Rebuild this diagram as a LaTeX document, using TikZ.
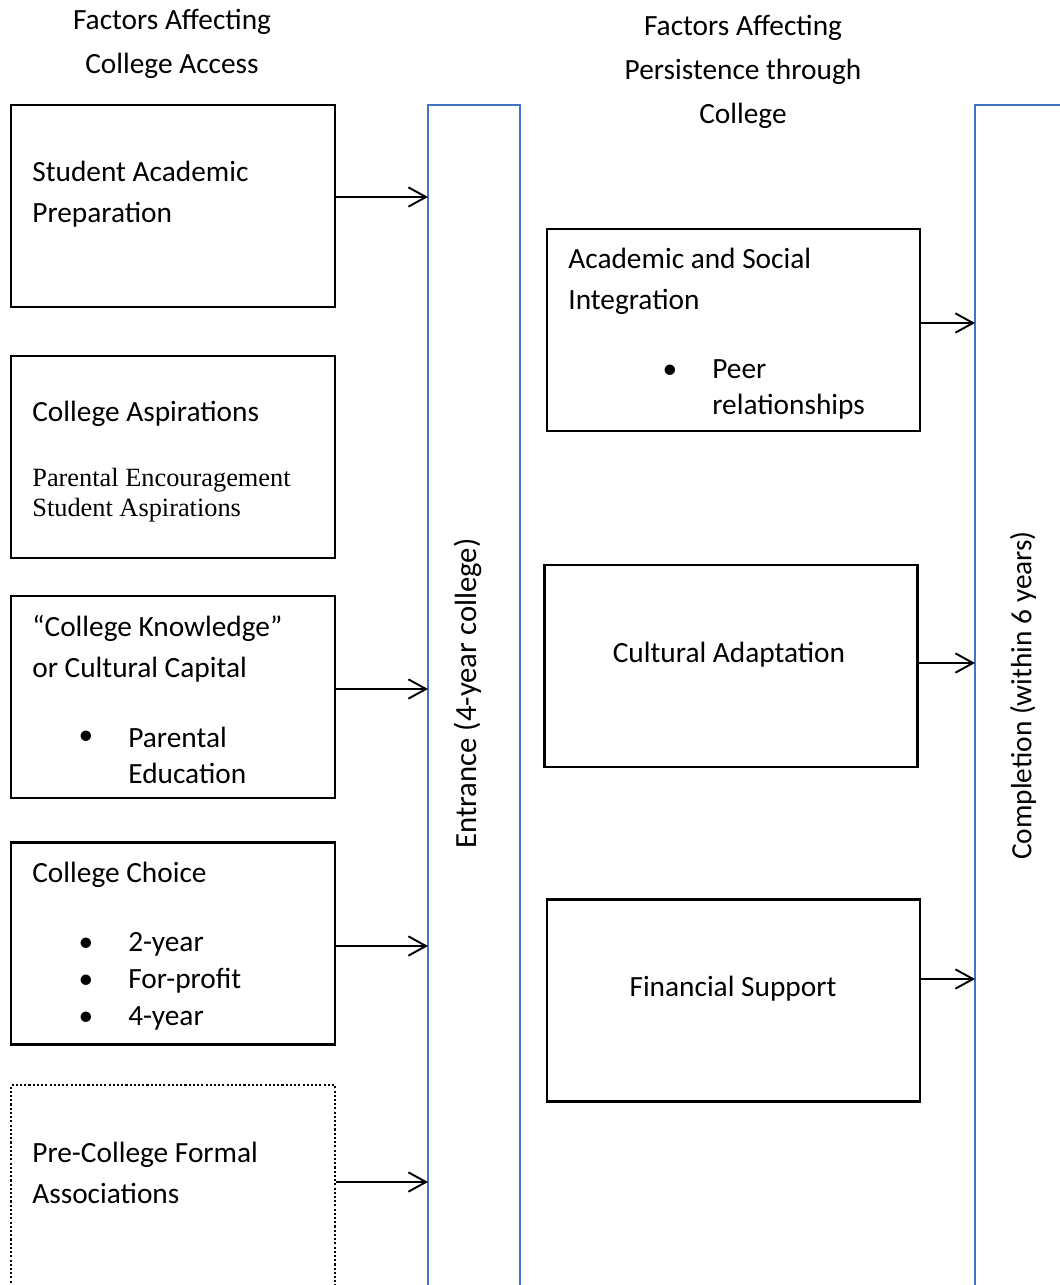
\documentclass[tikz,border=0pt]{standalone}
\usepackage{fontspec}
\setmainfont{Carlito}
\newfontfamily\timesfont{Liberation Serif}
\usetikzlibrary{arrows.meta}
\definecolor{barblue}{RGB}{68,114,196}

\begin{document}
\begin{tikzpicture}[x=0.02cm,y=-0.02cm,>={Straight Barb[length=10pt,width=11pt]},
  factor/.style={draw,line width=1.6pt,minimum width=6.48cm,minimum height=4.04cm,inner sep=0pt},
  persist/.style={draw,line width=1.6pt,minimum width=7.46cm,minimum height=4.04cm,inner sep=0pt},
  txt/.style={align=left,inner sep=0pt,yshift=-1.4pt,font=\fontsize{16.7}{23.3}\selectfont},
  head/.style={align=center,inner sep=0pt,yshift=-1.6pt,font=\fontsize{16.7}{25}\selectfont},
  bar/.style={draw=barblue,line width=1.6pt}]
  \clip (0,0) rectangle (1060,1285);

  % headings
  \node[head] (accesshead) at (172,41.5) {Factors Affecting\\College Access};
  \node[head] (persisthead) at (743,69) {Factors Affecting\\Persistence through\\College};

  % college access
  \node[factor] (prep) at (173,206) {};
  \node[factor] (aspire) at (173,457) {};
  \node[factor] (know) at (173,697) {};
  \node[factor] (choice) at (173,943.5) {};
  \node[factor,line width=1.4pt,dash pattern=on 1.2pt off 1.2pt,minimum height=4.3cm] (assoc) at (173,1192.5) {};

  \node[txt,anchor=west] (preptxt) at (32,191.5) {Student Academic\\Preparation};
  \node[txt,anchor=west] (aspiretxt) at (32,411) {College Aspirations};
  \node[txt,anchor=west,font=\timesfont\fontsize{15}{17}\selectfont] (aspirelist) at (32,493) {Parental Encouragement\\Student Aspirations};
  \node[txt,anchor=west] (knowtxt) at (32,646) {“College Knowledge”\\or Cultural Capital};
  \node[txt] (knowdot) at (86,735) {•};
  \node[txt,anchor=west,font=\fontsize{16.7}{20.5}\selectfont] (knowlist) at (128,753) {Parental\\Education};
  \node[txt,anchor=west] (choicetxt) at (32,872) {College Choice};
  \node[txt] (choicedot1) at (86,942) {•};
  \node[txt] (choicedot2) at (86,979) {•};
  \node[txt] (choicedot3) at (86,1016) {•};
  \node[txt,anchor=west,font=\fontsize{16.7}{21}\selectfont] (choicelist) at (128,979) {2-year\\For-profit\\4-year};
  \node[txt,anchor=west] (assoctxt) at (32,1170.5) {Pre-College Formal\\Associations};

  % persistence
  \node[persist] (integ) at (733.5,330) {};
  \node[persist] (adapt) at (731,666) {};
  \node[persist] (finance) at (733.5,1000.5) {};

  \node[txt,anchor=west] (integtxt) at (568,279) {Academic and Social\\Integration};
  \node[txt] (integdot) at (670,369) {•};
  \node[txt,anchor=west,font=\fontsize{16.7}{20.5}\selectfont] (integlist) at (712,387) {Peer\\relationships};
  \node[txt] (adapttxt) at (729,652) {Cultural Adaptation};
  \node[txt] (financetxt) at (733,986) {Financial Support};

  % entrance and completion
  \draw[bar] (428,1300) -- (428,105) -- (520,105) -- (520,1300);
  \draw[bar] (975,1300) -- (975,105) -- (1070,105);
  \node[txt,rotate=90,font=\fontsize{17.5}{23}\selectfont] (entrance) at (468,691) {Entrance (4-year college)};
  \node[txt,rotate=90] (completion) at (1023,693) {Completion (within 6 years)};

  \coordinate (ent1) at (428,197);
  \coordinate (ent3) at (428,689);
  \coordinate (ent4) at (428,946);
  \coordinate (ent5) at (428,1182);
  \coordinate (comp1) at (975,323);
  \coordinate (comp2) at (975,663);
  \coordinate (comp3) at (975,979);

\path[->,line width=1.1pt]
  (prep.east |- ent1) edge (ent1)
  (know.east |- ent3) edge (ent3)
  (choice.east |- ent4) edge (ent4)
  (assoc.east |- ent5) edge (ent5)
  (integ.east |- comp1) edge (comp1)
  (adapt.east |- comp2) edge (comp2)
  (finance.east |- comp3) edge (comp3)
;
\end{tikzpicture}
\end{document}
